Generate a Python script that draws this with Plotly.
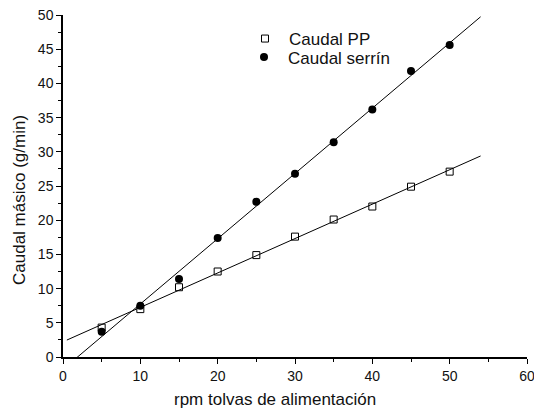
import numpy as np
import plotly.graph_objects as go

rpm = [5, 10, 15, 20, 25, 30, 35, 40, 45, 50]
caudal_pp = [4.3, 7.0, 10.2, 12.5, 14.9, 17.6, 20.1, 22.0, 24.9, 27.1]
caudal_serrin = [3.7, 7.5, 11.4, 17.4, 22.7, 26.8, 31.4, 36.2, 41.8, 45.6]
x_ticks = [0, 10, 20, 30, 40, 50, 60]
y_ticks = [0, 5, 10, 15, 20, 25, 30, 35, 40, 45, 50]
x_title = "rpm tolvas de alimentación"
y_title = "Caudal másico (g/min)"

fit_x = np.array([0.5, 54.0])
p_pp = np.polyfit(rpm, caudal_pp, 1)
p_se = np.polyfit(rpm, caudal_serrin, 1)

FONT = "Liberation Sans, Arial, sans-serif"

fig = go.Figure()
fig.add_trace(go.Scatter(x=fit_x, y=np.polyval(p_pp, fit_x), mode="lines",
                         line=dict(color="black", width=1), showlegend=False))
fig.add_trace(go.Scatter(x=fit_x, y=np.polyval(p_se, fit_x), mode="lines",
                         line=dict(color="black", width=1), showlegend=False))
fig.add_trace(go.Scatter(x=rpm, y=caudal_pp, mode="markers", name="Caudal PP",
                         legend="legend",
                         marker=dict(symbol="square-open", size=7, color="black",
                                     line=dict(width=1, color="black"))))
fig.add_trace(go.Scatter(x=rpm, y=caudal_serrin, mode="markers", name="Caudal serrín",
                         legend="legend2",
                         marker=dict(symbol="circle", size=8, color="black")))

axis_common = dict(showline=True, linecolor="black", linewidth=1.5, ticks="outside",
                   ticklen=5, tickwidth=1, tickcolor="black", showgrid=False, zeroline=False,
                   tickfont=dict(family=FONT, size=14, color="#111"),
                   ticklabeloverflow="allow", mirror=False, automargin=False)

L, R, T, B = 63, 7, 15, 54
W, H = 534, 411
pw, ph = W - L - R, H - T - B

leg_common = dict(xanchor="left", yanchor="top", bgcolor="rgba(0,0,0,0)",
                  font=dict(size=17, family=FONT, color="#111"), itemwidth=38)

fig.update_layout(
    width=W, height=H,
    margin=dict(l=L, r=R, t=T, b=B, autoexpand=False),
    paper_bgcolor="white", plot_bgcolor="white",
    font=dict(family=FONT, color="#111"),
    xaxis=dict(range=[0, 60], tickvals=x_ticks,
               minor=dict(ticks="outside", dtick=5, ticklen=3, tickcolor="black"),
               **axis_common),
    yaxis=dict(range=[0, 50], tickvals=y_ticks,
               minor=dict(ticks="outside", dtick=2.5, ticklen=3, tickcolor="black"),
               **axis_common),
    legend=dict(x=(241 - L) / pw, y=1 - (21 - T) / ph, **leg_common),
    legend2=dict(x=(240 - L) / pw, y=1 - (39.5 - T) / ph, **leg_common),
    showlegend=True,
    annotations=[
        dict(text=x_title, xref="paper", yref="paper",
             x=(274.5 - L) / pw, y=(H - B - 399) / ph, xanchor="center", yanchor="middle",
             showarrow=False, font=dict(size=17, family=FONT, color="#111")),
        dict(text=y_title, xref="paper", yref="paper", textangle=-90,
             x=(19.5 - L) / pw, y=(H - B - 200.5) / ph, xanchor="center", yanchor="middle",
             showarrow=False, font=dict(size=17, family=FONT, color="#111")),
    ],
)

fig.write_html("out.html")
